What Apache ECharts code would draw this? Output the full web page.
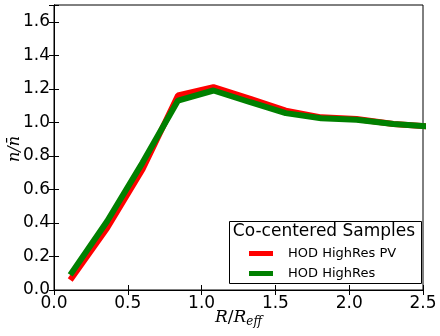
<!DOCTYPE html>
<html>
<head>
<meta charset="utf-8">
<script src="https://cdn.jsdelivr.net/npm/echarts@6/dist/echarts.min.js"></script>
<style>
  html, body { margin: 0; padding: 0; background: #fff; }
  #chart { width: 440px; height: 336px; }
</style>
</head>
<body>
<div id="chart"></div>
<script>
// radius in units of R_eff
const radius = [0.11, 0.36, 0.6, 0.84, 1.08, 1.33, 1.57, 1.81, 2.05, 2.3, 2.54];
const hodPV = [0.06, 0.37, 0.72, 1.16, 1.21, 1.14, 1.07, 1.03, 1.02, 0.99, 0.975];
const hod = [0.09, 0.41, 0.76, 1.13, 1.19, 1.12, 1.055, 1.025, 1.015, 0.99, 0.975];
const seriesNames = ['HOD HighRes PV', 'HOD HighRes'];
const legendTitle = 'Co-centered Samples';
const yName = 'n/n\u0304';

const font = 'DejaVu Sans';
const pair = (xs, ys) => xs.map((x, i) => [x, ys[i]]);

const chart = echarts.init(document.getElementById('chart'));

const tickIn = { show: true, inside: true, length: 5, lineStyle: { color: '#000', width: 1 } };

chart.setOption({
  animation: false,
  grid: {
    left: 54, right: 17, top: 5, bottom: 46,
    containLabel: false, outerBoundsMode: 'none',
    show: true, borderColor: '#000', borderWidth: 1, backgroundColor: 'transparent'
  },
  xAxis: [{
    type: 'value', min: 0, max: 2.5, interval: 0.5, position: 'bottom',
    axisLine: { show: true, lineStyle: { color: '#000' } },
    axisTick: tickIn,
    splitLine: { show: false },
    axisLabel: { color: '#000', fontFamily: font, fontSize: 17, margin: 5, formatter: v => v.toFixed(1) },
    name: '{i|R}{n|/}{i|R}{s|eff}',
    nameLocation: 'middle', nameGap: 18, nameMoveOverlap: false,
    nameTextStyle: {
      rich: {
        i: { fontFamily: 'DejaVu Serif', fontStyle: 'italic', fontSize: 17, color: '#000' },
        n: { fontFamily: 'DejaVu Serif', fontSize: 17, color: '#000' },
        s: { fontFamily: 'DejaVu Serif', fontStyle: 'italic', fontSize: 12, color: '#000', verticalAlign: 'bottom', padding: [8, 0, 0, 0] }
      }
    }
  }, {
    type: 'value', min: 0, max: 2.5, interval: 0.5, position: 'top',
    axisLine: { show: true, lineStyle: { color: '#000' } },
    axisTick: tickIn, axisLabel: { show: false }, splitLine: { show: false }
  }],
  yAxis: [{
    type: 'value', min: 0, max: 1.7, interval: 0.2, position: 'left',
    axisLine: { show: true, lineStyle: { color: '#000' } },
    axisTick: tickIn,
    splitLine: { show: false },
    axisLabel: {
      color: '#000', fontFamily: font, fontSize: 17, margin: 4,
      formatter: v => (Math.abs(v * 5 - Math.round(v * 5)) < 1e-6 ? v.toFixed(1) : '')
    }
  }, {
    type: 'value', min: 0, max: 1.7, interval: 0.2, position: 'right',
    axisLine: { show: true, lineStyle: { color: '#000' } },
    axisTick: tickIn, axisLabel: { show: false }, splitLine: { show: false }
  }],
  legend: {
    orient: 'vertical',
    left: 244, top: 242,
    itemWidth: 24, itemHeight: 5, itemGap: 7,
    icon: 'rect',
    z: 20,
    textStyle: { fontFamily: font, fontSize: 13, color: '#000', padding: [0, 0, 0, 10] },
    data: seriesNames
  },
  graphic: [{
    type: 'text',
    x: 15, y: 149, rotation: Math.PI / 2,
    style: { text: yName, fontFamily: 'DejaVu Serif', fontStyle: 'italic', fontSize: 16, fill: '#000', align: 'center', verticalAlign: 'middle' }
  }, {
    type: 'rect',
    shape: { x: 229.5, y: 221.5, width: 192, height: 62 },
    style: { fill: '#fff', stroke: '#000', lineWidth: 1 },
    z: 10
  }, {
    type: 'text',
    x: 324, y: 232,
    style: { text: legendTitle, fontFamily: font, fontSize: 17, fill: '#000', align: 'center', verticalAlign: 'middle' },
    z: 11
  }],
  series: [{
    name: seriesNames[0], type: 'line', data: pair(radius, hodPV),
    color: '#ff0000', symbol: 'none', lineStyle: { width: 6 }, clip: true, z: 2
  }, {
    name: seriesNames[1], type: 'line', data: pair(radius, hod),
    color: '#008000', symbol: 'none', lineStyle: { width: 6 }, clip: true, z: 3
  }]
});
</script>
</body>
</html>
